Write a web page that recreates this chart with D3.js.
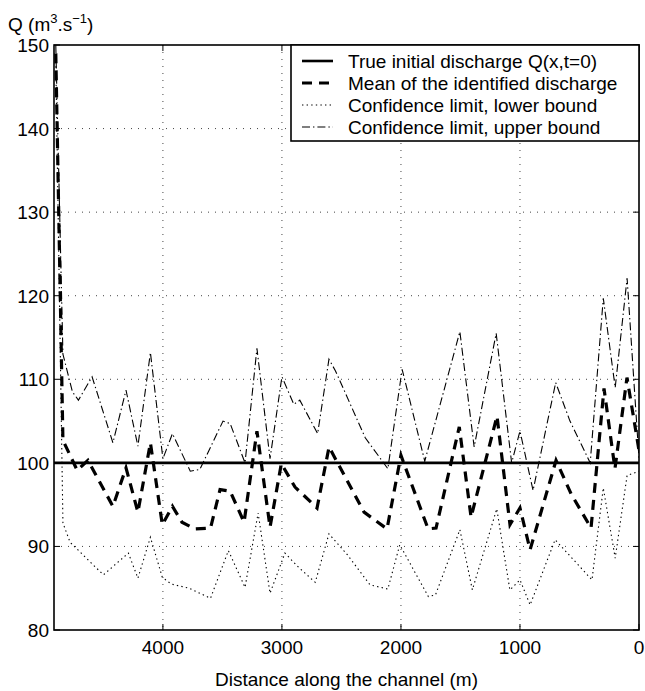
<!DOCTYPE html>
<html>
<head>
<meta charset="utf-8">
<script src="https://cdn.jsdelivr.net/npm/d3@7"></script>
<style>
  body { margin: 0; background: #fff; }
  svg { font-family: "Liberation Sans", Arial, Helvetica, sans-serif; }
</style>
</head>
<body>
<svg id="chart" width="645" height="691"></svg>
<script>
// values: [distance (m), Q (m3/s)]
const trueQ = [[4915, 100], [0, 100]];
const meanQ = [
  [4900, 149], [4840, 102.7], [4720, 99.1], [4630, 100.3], [4420, 94.8], [4310, 99.4],
  [4210, 94.1], [4105, 102.4], [4005, 92.6], [3920, 94.8], [3840, 92.9], [3730, 92.1],
  [3600, 92.2], [3520, 96.8], [3435, 96.6], [3318, 92.9], [3210, 103.8], [3100, 92.3],
  [3005, 99.9], [2890, 97.1], [2705, 94.6], [2604, 101.9], [2310, 94.1], [2117, 92.1],
  [2000, 100.9], [1772, 92.1], [1705, 92.2], [1510, 104.3], [1411, 93.5], [1193, 105.6],
  [1084, 92.6], [1000, 94.6], [915, 89.6], [697, 100.3], [571, 96.3], [403, 92.2],
  [294, 108.9], [202, 99.3], [101, 110.2], [0, 101.5]
];
const lowerQ = [
  [4900, 148], [4840, 92.8], [4780, 90.5], [4500, 86.6], [4290, 89.2], [4210, 86.2],
  [4105, 91.1], [4005, 86.3], [3930, 85.5], [3780, 85], [3600, 83.8], [3450, 89.5],
  [3310, 85.1], [3200, 94], [3100, 84.4], [2975, 89.2], [2860, 87.5], [2720, 85.7],
  [2605, 91.5], [2450, 89], [2260, 85.4], [2110, 84.9], [2010, 90.2], [1770, 84],
  [1710, 84.2], [1505, 92], [1400, 84.8], [1195, 94.5], [1085, 84.8], [1000, 86],
  [915, 83], [705, 90.8], [395, 86], [300, 97], [200, 88.6], [100, 98.5], [0, 99]
];
const upperQ = [
  [4900, 150], [4840, 113], [4760, 108.5], [4710, 107.5], [4595, 110.3], [4420, 102.4],
  [4310, 108.7], [4210, 102], [4105, 113.2], [4000, 100.5], [3920, 103.5], [3770, 99],
  [3690, 99.2], [3495, 105], [3435, 104.7], [3310, 100], [3210, 113.7], [3100, 100.5],
  [3000, 110.3], [2900, 107], [2850, 107.5], [2700, 103.5], [2605, 112.4], [2550, 111],
  [2300, 103], [2110, 99.3], [1990, 111.2], [1800, 100.2], [1505, 115.7], [1385, 101.9],
  [1200, 115.5], [1070, 100], [1000, 103.8], [890, 96.7], [700, 109.6], [580, 105],
  [410, 100], [300, 119.7], [200, 109], [100, 122.1], [0, 100.5]
];
const xTicks = [4000, 3000, 2000, 1000, 0];
const yTicks = [80, 90, 100, 110, 120, 130, 140, 150];
const legendLabels = [
  "True initial discharge Q(x,t=0)",
  "Mean of the identified discharge",
  "Confidence limit, lower bound",
  "Confidence limit, upper bound"
];

const m = { l: 54, r: 6, t: 45, b: 61 };
const W = 645, H = 691;
const w = W - m.l - m.r, h = H - m.t - m.b;
const FS = 19;

const svg = d3.select('#chart');
const g = svg.append('g').attr('transform', `translate(${m.l},${m.t})`);

const x = d3.scaleLinear().domain([4915, 0]).range([0, w]);
const y = d3.scaleLinear().domain([80, 150]).range([h, 0]);

// dotted grid
g.append('g').selectAll('line.gx')
    .data(xTicks.filter(d => d > 0))
  .enter().append('line')
    .attr('x1', d => x(d)).attr('x2', d => x(d))
    .attr('y1', 0).attr('y2', h)
    .attr('stroke', '#444').attr('stroke-width', 1)
    .attr('stroke-dasharray', '1,6');
g.append('g').selectAll('line.gy')
    .data(yTicks.filter(d => d > 80 && d < 150))
  .enter().append('line')
    .attr('x1', 0).attr('x2', w)
    .attr('y1', d => y(d)).attr('y2', d => y(d))
    .attr('stroke', '#444').attr('stroke-width', 1)
    .attr('stroke-dasharray', '1,6');

const line = d3.line().x(d => x(d[0])).y(d => y(d[1]));

const series = [
  { data: trueQ,  width: 2.6, dash: null },
  { data: meanQ,  width: 3.2, dash: '10,7' },
  { data: lowerQ, width: 1.1, dash: '1.4,3.2' },
  { data: upperQ, width: 1.1, dash: '8,3,1.4,3' }
];

const clip = svg.append('defs').append('clipPath').attr('id', 'clip')
  .append('rect').attr('width', w).attr('height', h);

g.append('g').attr('clip-path', 'url(#clip)')
  .selectAll('path')
    .data(series.slice().reverse())
  .enter().append('path')
    .attr('d', d => line(d.data))
    .attr('fill', 'none')
    .attr('stroke', '#000')
    .attr('stroke-width', d => d.width)
    .attr('stroke-dasharray', d => d.dash);

// axes: MATLAB style box with inward ticks
const tk = 6;
g.append('g').call(d3.axisBottom(x).tickValues(xTicks).tickSize(0).tickPadding(0).tickFormat(''))
  .attr('transform', `translate(0,${h})`).select('.domain').remove();

const ticksG = g.append('g').attr('stroke', '#000').attr('stroke-width', 1);
xTicks.forEach(d => {
  ticksG.append('line').attr('x1', x(d)).attr('x2', x(d)).attr('y1', h).attr('y2', h - tk);
  ticksG.append('line').attr('x1', x(d)).attr('x2', x(d)).attr('y1', 0).attr('y2', tk);
});
yTicks.forEach(d => {
  ticksG.append('line').attr('x1', 0).attr('x2', tk).attr('y1', y(d)).attr('y2', y(d));
  ticksG.append('line').attr('x1', w).attr('x2', w - tk).attr('y1', y(d)).attr('y2', y(d));
});

g.append('rect')
    .attr('width', w).attr('height', h)
    .attr('fill', 'none').attr('stroke', '#000').attr('stroke-width', 1.6);

// tick labels
g.append('g').selectAll('text')
    .data(xTicks)
  .enter().append('text')
    .attr('x', d => x(d)).attr('y', h + 24)
    .attr('text-anchor', 'middle')
    .attr('font-size', FS)
    .text(d => d);
g.append('g').selectAll('text')
    .data(yTicks)
  .enter().append('text')
    .attr('x', -5).attr('y', d => y(d) + 7)
    .attr('text-anchor', 'end')
    .attr('font-size', FS)
    .text(d => d);

// axis titles
svg.append('text')
    .attr('x', m.l + w / 2).attr('y', 686)
    .attr('text-anchor', 'middle')
    .attr('font-size', FS)
    .text('Distance along the channel (m)');

const yt = svg.append('text').attr('x', 8).attr('y', 31).attr('font-size', FS);
yt.append('tspan').text('Q (m');
yt.append('tspan').attr('dy', -8).attr('font-size', 13).text('3');
yt.append('tspan').attr('dy', 8).text('.s');
yt.append('tspan').attr('dy', -8).attr('font-size', 13).text('\u22121');
yt.append('tspan').attr('dy', 8).text(')');

// legend
const lg = g.append('g').attr('transform', `translate(${291 - m.l},0)`);
lg.append('rect')
    .attr('width', w - (291 - m.l)).attr('height', 96)
    .attr('fill', '#fff').attr('stroke', '#000').attr('stroke-width', 1.6);
const rows = lg.selectAll('g.row')
    .data(series)
  .enter().append('g')
    .attr('transform', (d, i) => `translate(0,${16 + i * 22})`);
rows.append('line')
    .attr('x1', 11).attr('x2', 42)
    .attr('stroke', '#000')
    .attr('stroke-width', d => d.width)
    .attr('stroke-dasharray', d => d.dash);
rows.append('text')
    .attr('x', 57).attr('y', 7)
    .attr('font-size', FS)
    .text((d, i) => legendLabels[i]);
</script>
</body>
</html>
